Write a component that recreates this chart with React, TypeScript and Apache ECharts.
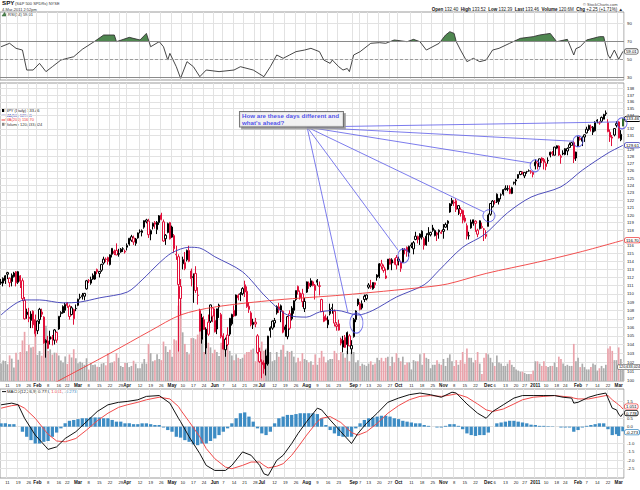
import React, { useEffect, useRef } from "react";
import * as echarts from "echarts";

// ---------- calendar ----------
const HOLIDAYS = ["2010-01-18","2010-02-15","2010-04-02","2010-05-31","2010-07-05","2010-09-06","2010-11-25","2010-12-24","2011-01-17","2011-02-21"];
const FIRST_DAY = "2010-01-06";
const LAST_DAY = "2011-03-03";
function buildTradingDays(): string[] {
  const out: string[] = [];
  const d = new Date(FIRST_DAY + "T00:00:00Z");
  const end = new Date(LAST_DAY + "T00:00:00Z").getTime();
  while (d.getTime() <= end) {
    const wd = d.getUTCDay();
    const s = d.toISOString().slice(0, 10);
    if (wd !== 0 && wd !== 6 && HOLIDAYS.indexOf(s) < 0) out.push(s);
    d.setUTCDate(d.getUTCDate() + 1);
  }
  return out;
}
const dates = buildTradingDays();

// ---------- daily candles [open, high, low, close] ----------
const ohlc: number[][] = [
  [111.3,111.8,111.1,111.44],[111.3,112.0,110.9,111.89],[111.6,112.3,111.2,112.21],[112.6,112.7,111.8,112.40],[111.9,112.0,110.8,111.35],
  [111.5,112.5,110.9,112.28],[112.1,112.7,112.0,112.55],[112.7,112.8,110.9,111.33],[111.4,112.8,111.2,112.72],[112.2,112.3,110.7,111.53],
  [111.6,111.9,109.1,109.41],[109.2,109.6,106.9,106.99],[107.8,108.2,107.0,107.48],[107.2,108.3,106.6,107.03],[106.8,107.9,105.9,107.56],
  [107.9,108.0,105.9,106.28],[106.9,107.5,104.9,105.24],
  [105.6,106.8,105.2,106.74],[106.9,108.3,106.4,108.13],[107.8,108.2,107.2,107.53],[107.2,107.3,104.1,104.18],[104.2,104.6,102.5,104.49],
  [104.4,105.0,103.5,103.56],[104.6,105.6,104.0,104.91],[104.8,105.1,103.9,104.68],[104.5,105.8,104.0,105.69],[104.5,105.5,104.2,105.40],
  [105.8,107.3,105.7,107.30],[107.6,107.9,107.2,107.75],[107.7,108.6,107.6,108.46],[108.0,108.9,107.7,108.70],[108.9,109.0,108.3,108.58],
  [108.5,108.7,106.9,107.27],[107.5,108.5,107.4,108.31],[107.0,108.2,106.3,108.09],[108.2,108.7,107.9,108.24],
  [108.6,109.4,108.5,109.34],[109.5,110.0,109.3,109.59],[109.8,110.1,109.3,109.64],[109.7,110.1,109.2,110.05],[110.6,111.7,110.5,111.59],
  [111.6,111.8,111.3,111.57],[111.3,112.1,111.1,111.76],[111.8,112.5,111.7,112.27],[111.8,112.8,111.7,112.72],[113.0,113.1,112.4,112.70],
  [112.5,112.8,112.0,112.75],[112.9,113.7,112.7,113.63],[113.8,114.6,113.6,114.29],[114.3,114.5,113.9,114.25],[114.5,114.6,113.6,114.00],
  [113.6,114.9,113.5,114.83],[114.9,115.7,114.5,115.66],[115.3,115.5,114.8,115.02],[115.4,116.3,114.8,114.82],[115.0,115.6,114.6,114.91],
  [115.2,115.7,115.1,115.56],[115.6,115.8,115.2,115.57],[115.3,115.5,115.0,115.19],
  [115.8,116.3,115.4,116.04],[116.2,117.0,116.0,116.96],[116.7,117.4,116.5,117.16],[117.0,117.3,116.1,116.47],[116.3,117.0,116.0,116.86],
  [117.0,117.7,116.9,117.65],[117.8,118.1,117.6,117.85],[117.7,118.1,117.2,117.93],[118.4,119.3,118.2,119.25],[119.1,119.5,118.9,119.35],
  [119.2,119.5,117.0,117.42],[117.5,118.1,116.7,117.96],[118.5,119.0,118.1,118.91],[119.0,119.2,118.2,118.79],[118.1,119.2,117.5,119.05],
  [119.0,120.0,118.7,119.90],[120.0,120.3,119.3,119.39],[119.1,119.4,116.5,116.60],[116.9,117.5,116.1,117.35],[117.7,119.0,117.6,118.87],
  [119.0,119.1,116.8,116.89],
  [117.1,118.6,117.0,118.42],[117.3,117.5,115.1,115.60],[114.9,116.0,114.2,114.84],[114.6,114.9,103.2,111.12],[110.9,111.8,107.4,109.42],
  [113.7,114.6,113.0,114.23],[113.1,115.2,112.9,113.85],[114.2,115.5,114.0,115.41],[115.4,116.0,113.9,114.01],[112.8,113.1,110.9,111.86],
  [112.1,112.5,108.9,111.99],[112.5,113.4,110.1,110.40],[109.8,110.8,108.7,109.83],[108.0,108.2,105.5,105.55],[104.6,107.6,104.1,107.14],
  [106.9,107.3,105.7,105.75],[103.6,106.0,102.9,105.79],[106.6,107.5,105.0,105.19],[106.7,108.7,106.5,108.65],[108.3,108.4,106.6,107.31],
  [106.8,108.2,105.4,105.47],[105.8,108.2,105.2,108.19],[108.4,108.8,107.1,108.63],[107.5,107.7,104.7,104.89],[105.0,105.3,103.4,103.47],
  [103.4,104.8,102.6,104.61],[105.1,106.0,103.8,103.99],[105.2,107.1,105.0,107.05],[106.4,107.6,106.2,107.52],[108.0,108.6,107.2,107.33],
  [107.4,109.9,107.3,109.85],[109.5,110.0,109.2,109.79],[110.0,110.2,109.1,109.93],[110.0,110.8,109.8,110.63],[111.1,111.6,109.6,110.21],
  [110.3,110.9,108.3,108.44],[108.5,109.0,107.7,108.11],[107.7,107.9,106.1,106.30],[106.3,107.0,105.8,106.60],[106.6,107.1,106.0,106.38],
  [105.0,105.2,102.9,103.08],[103.2,103.6,101.9,102.04],
  [102.0,102.3,100.2,101.71],[101.9,102.2,100.7,101.24],[102.7,103.4,100.5,101.78],[101.8,105.0,101.6,104.97],[105.6,106.1,104.8,105.95],
  [105.9,106.8,105.7,106.72],[106.5,107.1,106.0,106.80],[107.7,108.6,107.5,108.44],[108.1,108.9,107.7,108.42],[108.0,108.7,106.6,108.55],
  [107.9,108.0,105.3,105.42],[105.7,106.3,104.9,106.05],[104.9,107.3,104.6,107.26],[107.6,108.0,105.7,105.89],[107.0,108.5,106.8,108.27],
  [108.0,109.2,107.6,109.16],[109.3,110.4,109.1,110.39],[110.9,111.0,109.9,110.27],[110.1,110.4,109.3,109.51],[110.0,110.6,108.4,109.05],
  [108.2,109.5,107.8,109.06],
  [110.2,111.5,110.1,111.46],[111.3,111.5,110.6,110.93],[111.0,111.9,110.8,111.60],[111.0,111.6,110.9,111.46],[110.4,111.2,109.3,111.04],
  [111.4,111.8,111.0,111.65],[110.9,111.5,109.8,110.98],[109.3,109.4,107.8,107.86],[106.7,107.9,106.6,107.28],[107.1,107.5,106.8,106.85],
  [106.3,107.3,105.9,106.86],[107.6,108.8,107.4,108.16],[108.2,108.8,107.6,108.32],[107.9,108.1,106.1,106.49],[106.3,106.6,105.6,106.10],
  [106.4,106.9,105.6,105.67],[104.6,104.8,103.9,104.14],[103.7,105.0,103.1,104.48],[104.8,105.1,103.6,103.67],[104.0,105.5,102.9,105.39],
  [105.0,105.2,103.8,103.84],[103.5,104.5,102.9,103.88],
  [104.9,107.1,104.8,106.95],[106.9,108.0,106.6,107.92],[108.7,109.4,108.5,109.35],[108.8,109.0,108.0,108.09],[108.3,109.2,108.1,108.79],
  [109.7,109.9,109.0,109.31],[109.4,109.9,109.2,109.85],[110.8,111.3,110.6,111.07],[110.8,111.7,110.6,110.99],[110.6,111.4,110.5,111.38],
  [111.1,111.4,110.7,111.34],[112.3,112.4,111.6,112.00],[112.1,113.8,111.9,113.70],[113.7,114.2,113.0,113.41],[113.3,113.6,112.6,112.86],
  [112.2,113.1,111.8,111.92],[113.0,114.3,112.9,114.29],[114.3,114.4,113.6,113.65],[113.8,114.4,112.9,114.20],[113.9,114.4,113.6,113.90],
  [114.5,114.8,113.0,113.55],
  [114.3,114.6,113.5,114.05],[113.9,114.1,112.7,113.13],[113.9,115.7,113.8,115.49],[115.4,115.7,114.9,115.42],[115.8,115.9,114.6,115.23],
  [115.1,116.0,114.6,115.93],[116.1,116.4,115.7,115.95],[115.6,116.6,114.9,116.39],[116.8,117.8,116.7,117.22],[117.2,117.3,116.3,116.79],
  [117.5,117.6,116.1,117.03],[117.1,118.0,116.8,117.88],[116.9,117.1,115.5,116.01],[116.1,117.6,116.0,117.23],[117.6,118.4,116.5,117.44],
  [117.4,117.8,117.2,117.72],[118.3,118.7,117.8,117.97],[117.3,118.1,117.2,117.97],[117.4,117.8,116.6,117.65],[118.0,118.1,116.9,117.79],
  [117.6,118.0,117.5,117.73],
  [118.1,118.8,116.9,117.85],[118.4,119.0,118.3,118.76],[118.9,119.3,118.0,119.20],[120.4,121.6,120.3,121.50],[121.5,122.3,121.2,121.97],
  [121.6,122.0,121.2,121.71],[121.9,122.2,120.4,120.73],[120.8,121.3,120.0,121.26],[120.2,121.0,119.8,120.75],[120.6,120.7,118.9,119.32],
  [119.6,120.0,119.0,119.18],[118.6,118.9,116.8,117.24],[117.3,117.8,116.8,117.27],[118.3,119.4,118.2,119.07],[118.9,119.4,118.6,119.37],
  [118.9,119.3,117.8,119.19],[118.0,118.2,117.1,117.48],[118.2,119.3,118.1,119.24],[118.5,119.0,118.2,118.35],[118.1,118.3,116.6,118.18],
  [117.2,118.0,116.9,117.46],
  [118.5,120.2,118.5,120.00],[120.1,121.6,119.9,121.54],[121.1,122.0,121.0,121.86],[121.7,122.0,121.4,121.70],[122.8,122.9,121.6,121.76],
  [121.8,122.3,121.4,122.21],[122.7,122.9,122.1,122.68],[122.8,123.5,122.6,123.42],[123.6,124.0,123.3,123.43],[123.5,124.0,123.2,123.54],
  [123.5,124.0,122.8,122.91],[122.9,123.8,122.8,123.67],[124.3,124.5,124.1,124.42],[124.6,124.9,124.0,124.74],[125.0,125.5,124.9,125.50],
  [125.5,125.9,125.4,125.92],[125.8,125.9,125.5,125.71],[125.3,125.8,125.0,125.79],[125.9,126.0,125.6,125.89],[126.0,126.2,125.9,126.01],
  [125.9,126.1,125.6,125.82],[125.5,125.9,125.1,125.80],
  [126.7,127.6,126.2,127.22],[127.3,127.4,126.2,127.06],[126.6,127.7,126.5,127.69],[127.8,127.9,127.1,127.42],[127.6,127.8,126.2,127.19],
  [126.6,127.3,126.1,127.01],[127.4,127.9,127.0,127.48],[128.2,128.7,127.9,128.63],[128.6,128.8,128.1,128.41],[128.2,129.4,128.2,129.36],
  [129.2,129.6,129.1,129.54],[129.5,129.6,128.1,128.23],[127.9,128.3,127.0,128.06],[128.5,128.9,128.2,128.37],[128.3,129.2,128.2,129.12],
  [128.8,129.3,128.2,129.16],[129.3,130.0,129.2,129.70],[129.6,130.1,129.6,129.99],[130.0,130.2,127.1,127.67],[127.8,128.7,127.4,128.65],
  [129.5,130.9,129.4,130.80],[130.6,130.9,130.3,130.44],[130.2,130.9,129.5,130.75],[130.8,131.2,130.1,131.12],[131.4,132.3,131.3,131.94],
  [131.9,132.6,131.7,132.50],[132.3,132.6,131.6,132.13],[131.5,132.4,131.1,132.23],[131.7,133.1,131.6,132.95],[133.1,133.4,132.8,133.27],
  [132.9,133.1,132.6,132.84],[133.1,133.8,132.9,133.67],[133.4,134.2,133.4,134.08],[134.2,134.7,133.9,134.34],[132.9,133.4,131.5,131.58],
  [131.5,131.9,130.1,130.78],[130.8,131.1,129.5,130.65],[131.1,132.1,130.9,132.03],[132.5,133.1,132.2,132.76],
  [133.0,133.1,130.6,130.67],[130.4,131.8,130.2,131.21],[132.40,133.52,132.39,133.46]
];

// ---------- volume (millions) ----------
const volumeM: number[] = [
  151,177,172,144,221,193,116,243,183,250,350,424,257,313,289,296,406,
  225,258,218,400,476,258,273,228,245,243,220,176,160,212,147,229,203,274,197,
  154,167,157,140,196,99,153,138,142,123,121,150,155,135,240,155,160,170,240,200,130,120,155,
  155,120,130,175,150,110,110,150,190,150,320,240,170,180,230,190,180,340,300,250,270,
  210,360,350,650,690,420,320,250,230,370,370,360,400,470,430,250,420,330,290,240,
  270,250,215,330,290,320,300,260,220,180,230,200,190,200,230,250,250,270,280,170,380,290,
  340,260,280,270,250,170,180,250,210,270,310,210,260,250,260,210,160,200,170,240,190,
  180,160,170,140,230,140,200,260,210,160,180,190,190,260,240,180,250,240,200,260,170,250,
  250,160,180,130,150,140,130,150,170,140,150,200,180,200,170,200,210,130,210,160,240,
  200,170,210,140,160,160,100,180,170,170,230,140,240,200,190,110,140,140,180,150,140,
  190,130,200,230,170,130,180,140,180,250,150,280,200,200,160,180,250,150,60,200,240,
  230,200,160,130,220,160,150,130,130,150,180,140,120,100,90,80,80,70,60,60,60,90,
  170,170,150,130,170,130,120,130,130,160,120,210,190,150,130,140,130,130,320,170,
  200,120,150,120,100,100,120,150,140,90,110,130,110,140,280,300,260,180,180,
  290,190,120.633
];

// ---------- moving averages [day index, value] ----------
const ma50Pts: number[][] = [[0,107.45],[11,109.25],[18,109.25],[29,108.9],[37,109.0],[46,109.5],[59,110.2],[66,111.7],[74,113.8],[80,115.1],[88,115.8],[93,115.7],[100,114.6],[113,112.7],[124,109.6],[134,107.45],[143,107.2],[149,107.8],[157,108.0],[167,107.45],[174,108.0],[185,109.6],[198,111.1],[205,112.9],[216,115.8],[226,117.4],[237,120.3],[248,122.4],[262,123.8],[272,126.1],[284,128.5],[291,129.61]];
const ma200Pts: number[][] = [[22,99.3],[26,99.8],[51,103.0],[70,105.6],[84,107.45],[100,108.4],[129,109.25],[160,109.85],[198,110.8],[209,111.2],[227,112.5],[251,113.9],[271,115.2],[291,116.7]];

// ---------- RSI(14) [day index, value] ----------
const rsiPts: number[][] = [[0,64.2],[4,68],[7,62.4],[10,60.5],[12,38.3],[15,38.3],[18,45.7],[21,36.5],[24,42],[28,49.4],[31,51.3],[34,53.1],[38,61.3],[44,70.5],[48,77.2],[53,77.2],[54,69.8],[60,74.6],[65,71.7],[68,79],[70,64.2],[74,69.8],[76,64.2],[78,49.4],[79,56.8],[82,42],[84,29.1],[87,47.6],[90,42],[93,30.9],[96,38.3],[102,36.5],[109,38.3],[112,42],[118,38.3],[123,30.9],[126,42],[129,55],[132,51.3],[135,55],[138,58.7],[142,60.5],[145,62.4],[149,58.7],[151,49.4],[154,45.7],[155,49.4],[158,42],[160,38.3],[162,40],[163,36.5],[165,55],[168,58.7],[173,68],[177,68.7],[180,68],[184,71.7],[190,69.8],[193,72.4],[196,69.8],[199,60.5],[205,68],[208,77.2],[210,80.9],[212,79],[213,69.8],[215,60.5],[218,47.6],[221,51.3],[224,47.6],[227,49.4],[230,60.5],[233,62.4],[238,68],[243,73.5],[249,75.4],[252,77.2],[257,79],[260,69.8],[265,72.4],[268,55],[269,62],[271,64.2],[274,71.7],[277,73.5],[280,75.4],[282,75.4],[284,55],[285,51.3],[287,60.5],[289,50.2],[291,59.01]];

// ---------- MACD(12,26,9) [day index, value] ----------
const macdPts: number[][] = [[0,1.3],[5,1.4],[8,1.3],[11,0.5],[16,-0.5],[21,-1.2],[22,-1.35],[26,-1.2],[30,-0.7],[35,-0.3],[40,0.3],[45,0.9],[50,1.3],[55,1.45],[59,1.5],[64,1.6],[68,1.8],[74,1.85],[79,1.4],[83,0.5],[84,0.3],[88,-0.6],[93,-1.6],[96,-2.3],[100,-2.6],[105,-2.6],[108,-2.3],[113,-1.5],[117,-1.7],[121,-2.3],[123,-2.8],[125,-2.9],[129,-2.0],[132,-1.7],[136,-1.0],[139,-0.4],[143,0.3],[148,1.1],[150,1.0],[154,0.4],[159,-0.3],[164,-1.0],[167,-0.4],[171,0.2],[176,0.8],[181,1.45],[186,1.7],[191,1.9],[196,2.0],[201,1.9],[206,1.75],[211,2.05],[213,2.0],[218,1.35],[223,0.8],[227,0.5],[230,0.9],[235,1.3],[240,1.7],[244,1.85],[249,1.85],[254,1.85],[259,1.85],[263,1.75],[267,1.7],[268,1.4],[270,1.45],[275,1.75],[279,1.9],[283,2.0],[284,1.7],[286,1.1],[288,1.0],[289,0.75],[290,0.6],[291,0.778]];
const signalPts: number[][] = [[0,1.1],[5,1.25],[8,1.3],[11,1.1],[16,0.5],[21,-0.3],[22,-0.45],[26,-0.85],[30,-0.9],[35,-0.7],[40,-0.2],[45,0.35],[50,0.8],[55,1.15],[59,1.3],[64,1.45],[68,1.6],[74,1.75],[79,1.65],[83,1.2],[84,1.0],[88,0.3],[93,-0.6],[96,-1.3],[100,-1.9],[105,-2.4],[108,-2.5],[113,-2.3],[117,-2.1],[121,-2.1],[123,-2.3],[125,-2.45],[129,-2.35],[132,-2.2],[136,-1.7],[139,-1.2],[143,-0.5],[148,0.3],[150,0.5],[154,0.6],[159,0.25],[164,-0.35],[167,-0.5],[171,-0.3],[176,0.2],[181,0.8],[186,1.25],[191,1.6],[196,1.8],[201,1.85],[206,1.8],[211,1.9],[213,1.95],[218,1.75],[223,1.35],[227,1.0],[230,0.9],[235,1.05],[240,1.35],[244,1.6],[249,1.75],[254,1.8],[259,1.85],[263,1.8],[267,1.75],[268,1.7],[270,1.65],[275,1.65],[279,1.75],[283,1.85],[284,1.85],[286,1.6],[288,1.4],[289,1.3],[290,1.2],[291,1.051]];
const histPts: number[][] = [[0,0.2],[2,0.2],[4,0.15],[6,0.15],[8,0.0],[10,-0.3],[12,-0.6],[14,-0.8],[16,-1.0],[18,-1.0],[20,-0.9],[22,-0.85],[24,-0.6],[26,-0.35],[28,-0.1],[30,0.2],[32,0.35],[34,0.4],[36,0.45],[38,0.5],[40,0.5],[42,0.55],[44,0.55],[46,0.55],[48,0.5],[50,0.5],[52,0.4],[54,0.3],[56,0.3],[58,0.2],[60,0.2],[62,0.15],[64,0.15],[66,0.2],[68,0.2],[70,0.15],[72,0.1],[74,0.1],[76,-0.05],[78,-0.2],[80,-0.3],[82,-0.6],[84,-0.65],[86,-0.8],[88,-0.9],[90,-1.05],[92,-1.1],[94,-1.0],[96,-1.0],[98,-0.85],[100,-0.7],[102,-0.5],[104,-0.3],[106,-0.1],[108,0.2],[110,0.5],[112,0.8],[114,0.85],[116,0.6],[118,0.3],[120,-0.1],[122,-0.4],[124,-0.5],[126,-0.3],[128,0.2],[130,0.5],[132,0.6],[134,0.7],[136,0.7],[138,0.75],[140,0.8],[142,0.8],[144,0.8],[146,0.8],[148,0.75],[150,0.5],[152,0.1],[154,-0.2],[156,-0.4],[158,-0.55],[160,-0.6],[162,-0.6],[164,-0.6],[166,-0.1],[168,0.2],[170,0.4],[172,0.5],[174,0.55],[176,0.6],[178,0.65],[180,0.65],[182,0.6],[184,0.5],[186,0.45],[188,0.35],[190,0.3],[192,0.25],[194,0.2],[196,0.2],[198,0.1],[200,0.05],[202,0.0],[204,-0.05],[206,-0.05],[208,0.05],[210,0.15],[212,0.15],[214,0.05],[216,-0.15],[218,-0.4],[220,-0.5],[222,-0.55],[224,-0.5],[226,-0.5],[228,-0.35],[230,0.0],[232,0.2],[234,0.25],[236,0.3],[238,0.35],[240,0.35],[242,0.3],[244,0.25],[246,0.2],[248,0.12],[250,0.1],[252,0.05],[254,0.05],[256,0.03],[258,0.02],[260,0.0],[262,-0.05],[264,-0.05],[266,-0.05],[268,-0.3],[270,-0.2],[272,-0.05],[274,0.05],[276,0.1],[278,0.15],[280,0.2],[282,0.2],[284,-0.15],[286,-0.5],[288,-0.45],[289,-0.55],[291,-0.273]];

// ---------- axis tick labels ----------
const tickLabels: [string, string][] = [["2010-01-11","11"],["2010-01-19","19"],["2010-01-26","26"],["2010-02-01","Feb"],["2010-02-08","8"],["2010-02-16","16"],["2010-02-22","22"],["2010-03-01","Mar"],["2010-03-08","8"],["2010-03-15","15"],["2010-03-22","22"],["2010-03-29","29"],["2010-04-01","Apr"],["2010-04-12","12"],["2010-04-19","19"],["2010-04-26","26"],["2010-05-03","May"],["2010-05-10","10"],["2010-05-17","17"],["2010-05-24","24"],["2010-06-01","Jun"],["2010-06-07","7"],["2010-06-14","14"],["2010-06-21","21"],["2010-06-28","28"],["2010-07-01","Jul"],["2010-07-12","12"],["2010-07-19","19"],["2010-07-26","26"],["2010-08-02","Aug"],["2010-08-09","9"],["2010-08-16","16"],["2010-08-23","23"],["2010-09-01","Sep"],["2010-09-07","7"],["2010-09-13","13"],["2010-09-20","20"],["2010-09-27","27"],["2010-10-01","Oct"],["2010-10-11","11"],["2010-10-18","18"],["2010-10-25","25"],["2010-11-01","Nov"],["2010-11-08","8"],["2010-11-15","15"],["2010-11-22","22"],["2010-12-01","Dec"],["2010-12-06","6"],["2010-12-13","13"],["2010-12-20","20"],["2010-12-27","27"],["2011-01-03","2011"],["2011-01-10","10"],["2011-01-18","18"],["2011-01-24","24"],["2011-02-01","Feb"],["2011-02-07","7"],["2011-02-14","14"],["2011-02-22","22"],["2011-03-01","Mar"]];
const priceTicks = [100,101,102,103,104,105,106,107,108,109,110,111,112,113,114,115,116,118,119,120,121,122,123,124,125,126,127,128,129,131,132,134,135,136,137,138];
const rsiTicks = [30, 50, 70, 90];
const macdTicks = [-2.5, -2, -1.5, -1, 0, 0.5, 1.5];

// ---------- annotation (day index, price) ----------
const annoAnchor = [143.2, 132.25];
const annoTargets = [[162.3,107.7],[185.7,115.45],[226,120.4],[248,127.1],[267.6,130.2],[288.2,133.0]];
const annoCircles = [[166.3,106.5],[188.3,114.7],[228.3,119.9],[249.9,126.7],[270,130.2],[290.6,132.8]];
const annoCircleSizes = [[13,20],[11,14],[12,12],[10,12],[10,11],[10,11]];
const annoTextAt = [111.8, 133.4];

const FONT = "'Liberation Sans', Arial, sans-serif";
const RED = "#e0103a";
const MA50C = "#3a3ab4";
const MA200C = "#f03c3c";
const HISTC = "#3d8cc4";
const GRIDC = "#e2e2e2";
const RSIFILL = "#4f8750";

function buildOption(useVisualMap: boolean): any {
  const N = dates.length;
  const last = N - 1;
  const labelMap = new Map(tickLabels);
  const isTick = (_i: number, v: string) => labelMap.has(v);
  const toCat = (pts: number[][]) => pts.map((p) => [dates[p[0]], p[1]]);

  const candleData = ohlc.map((d, i) => {
    const [o, h, l, c] = d;
    const prev = i > 0 ? ohlc[i - 1][3] : o;
    const col = c >= prev ? "#000" : RED;
    if (i === last) return { value: [o, c, l, h], itemStyle: { color: "#5fa85f", color0: "#5fa85f", borderColor: "#2f6a2f", borderColor0: "#2f6a2f" } };
    return { value: [o, c, l, h], itemStyle: { color: "#fff", color0: col, borderColor: col, borderColor0: col } };
  });
  const volData = volumeM.map((v, i) => {
    const down = i > 0 && ohlc[i][3] < ohlc[i - 1][3];
    return { value: v, itemStyle: { color: down ? "#eaa3ab" : "#acacac" } };
  });

  const catAxis = (gi: number, showLabels: boolean) => ({
    type: "category", gridIndex: gi, data: dates, boundaryGap: true,
    axisLine: { show: false },
    axisTick: { show: false, interval: isTick },
    axisLabel: {
      show: showLabels, interval: isTick, fontSize: 4.2, color: "#222", margin: 2, fontFamily: FONT,
      formatter: (v: string) => { const t = labelMap.get(v); if (!t) return ""; return /^\d{1,2}$/.test(t) ? t : "{b|" + t + "}"; },
      rich: { b: { fontWeight: "bold", fontSize: 4.6, fontFamily: FONT, color: "#111" } },
    },
    splitLine: { show: gi !== 2, interval: isTick, lineStyle: { color: GRIDC, width: 1 } },
  });

  const boxLabel = (text: string, border: string, color: string, offset: number[], size: number) => ({
    show: true, position: "right", distance: 2, offset, formatter: text, fontSize: size, fontFamily: FONT, color,
    backgroundColor: "#fff", borderColor: border, borderWidth: 0.8, borderRadius: 1.5, padding: [0.5, 1, 0, 1],
  });
  const endMark = (value: number, text: string, border: string, color: string, offset: number[] = [0, 0], size = 4.3) => ({
    symbol: "circle", symbolSize: 0, silent: true,
    data: [{ coord: [dates[last], value], label: boxLabel(text, border, color, offset, size) }],
  });

  const annoSeries: any[] = annoTargets.map((t) => ({
    type: "line", xAxisIndex: 4, yAxisIndex: 1, data: [annoAnchor, t], symbol: "none", silent: true, z: 6,
    lineStyle: { color: "#5a5ae8", width: 0.8 },
  }));
  annoSeries.push({
    type: "scatter", xAxisIndex: 4, yAxisIndex: 1, silent: true, z: 6, symbol: "circle",
    data: annoCircles.map((c, i) => ({ value: c, symbolSize: annoCircleSizes[i] })),
    itemStyle: { color: "rgba(0,0,0,0)", borderColor: "#4f4fe6", borderWidth: 1 },
  });
  annoSeries.push({
    type: "scatter", xAxisIndex: 4, yAxisIndex: 1, silent: true, z: 7, symbolSize: 0, data: [annoTextAt],
    label: {
      show: true, position: "right", distance: 0, formatter: "How are these days different and\nwhat's ahead?",
      fontSize: 6.2, lineHeight: 7, fontWeight: "bold", fontFamily: FONT, color: "#1e1ee6",
      backgroundColor: "#fff", borderColor: "#555", borderWidth: 1, padding: [0.5, 4, 0, 2],
      shadowColor: "#999", shadowOffsetX: 2, shadowOffsetY: 2, shadowBlur: 0, align: "left",
    },
  });

  const rsiArea: any = useVisualMap
    ? { type: "line", xAxisIndex: 0, yAxisIndex: 0, data: toCat(rsiPts), symbol: "none", z: 3, lineStyle: { width: 0, opacity: 0 }, areaStyle: { origin: 70, opacity: 1 } }
    : { type: "line", xAxisIndex: 0, yAxisIndex: 0, data: rsiPts.map((p) => [dates[p[0]], Math.max(p[1], 70)]), symbol: "none", z: 3, lineStyle: { width: 0, opacity: 0 }, areaStyle: { origin: 70, opacity: 1, color: RSIFILL } };

  const txt = (x: number, y: number, text: string, size: number, fill = "#222", extra: any = {}) => ({
    type: "text", x, y, silent: true, style: { text, fontSize: size, fontFamily: FONT, fill, ...extra },
  });

  return {
    animation: false,
    backgroundColor: "#fff",
    grid: [
      { left: 0, top: 12, width: 624, height: 68, show: true, borderColor: "#9a9a9a", borderWidth: 1, backgroundColor: "#fff" },
      { left: 0, top: 83, width: 624, height: 298, show: true, borderColor: "#9a9a9a", borderWidth: 1, backgroundColor: "#fff" },
      { left: 0, top: 301, width: 624, height: 80, show: false },
      { left: 0, top: 389, width: 624, height: 89, show: true, borderColor: "#9a9a9a", borderWidth: 1, backgroundColor: "#fff" },
    ],
    xAxis: [
      catAxis(0, false),
      catAxis(1, true),
      { ...catAxis(2, false), show: false },
      catAxis(3, true),
      { type: "value", gridIndex: 1, min: -0.5, max: N - 0.5, show: false },
    ],
    yAxis: [
      {
        type: "value", gridIndex: 0, position: "right", min: 27.2, max: 102.8,
        axisLine: { show: false }, axisTick: { show: false, customValues: rsiTicks },
        axisLabel: { customValues: rsiTicks, fontSize: 4.3, color: "#222", margin: 3, fontFamily: FONT },
        splitLine: { show: true, lineStyle: { color: GRIDC } },
      },
      {
        type: "log", logBase: 10, gridIndex: 1, position: "right", min: 99.89, max: 138.85,
        axisLine: { show: false }, axisTick: { show: false, customValues: priceTicks },
        axisLabel: { customValues: priceTicks, fontSize: 4.3, color: "#222", margin: 3, fontFamily: FONT, formatter: (v: number) => String(Math.round(v)) },
        splitLine: { show: true, lineStyle: { color: GRIDC } },
      },
      { type: "value", gridIndex: 2, min: 0, max: 690, show: false, splitLine: { show: false } },
      {
        type: "value", gridIndex: 3, position: "right", min: -3.05, max: 2.24,
        axisLine: { show: false }, axisTick: { show: false, customValues: macdTicks },
        axisLabel: { customValues: macdTicks, fontSize: 4.3, color: "#222", margin: 3, fontFamily: FONT, formatter: (v: number) => v.toFixed(1) },
        splitLine: { show: true, lineStyle: { color: GRIDC } },
      },
    ],
    visualMap: useVisualMap
      ? [{ show: false, type: "piecewise", seriesIndex: 1, dimension: 1, pieces: [{ min: 70, max: 120, color: RSIFILL }, { min: -20, max: 70, color: "rgba(0,0,0,0)" }] }]
      : [],
    series: [
      {
        type: "line", xAxisIndex: 0, yAxisIndex: 0, data: toCat(rsiPts), symbol: "none", z: 4,
        lineStyle: { color: "#333", width: 0.9 },
        markLine: {
          silent: true, symbol: "none", label: { show: false },
          data: [
            { yAxis: 70, lineStyle: { color: "#8a8a8a", type: "solid", width: 1 } },
            { yAxis: 30, lineStyle: { color: "#8a8a8a", type: "solid", width: 1 } },
            { yAxis: 50, lineStyle: { color: "#9a9a9a", type: [3, 2], width: 1 } },
          ],
        },
        markPoint: endMark(59.01, "59.01", "#555", "#000"),
      },
      rsiArea,
      { type: "candlestick", xAxisIndex: 1, yAxisIndex: 1, data: candleData, barWidth: 1.8, z: 4, markPoint: endMark(133.46, "133.46", "#000", "#000") },
      { type: "line", xAxisIndex: 1, yAxisIndex: 1, data: toCat(ma50Pts), symbol: "none", smooth: 0.3, z: 5, lineStyle: { color: MA50C, width: 0.9 }, markPoint: endMark(129.61, "129.61", MA50C, "#000") },
      { type: "line", xAxisIndex: 1, yAxisIndex: 1, data: toCat(ma200Pts), symbol: "none", smooth: 0.3, z: 5, lineStyle: { color: MA200C, width: 0.9 }, markPoint: endMark(116.7, "116.70", MA200C, "#000") },
      { type: "bar", xAxisIndex: 2, yAxisIndex: 2, data: volData, barWidth: 1.7, z: 1, markPoint: endMark(120.633, "120,633,024", "#777", "#000", [-7, 0], 3.8) },
      { type: "bar", xAxisIndex: 3, yAxisIndex: 3, data: toCat(histPts), barWidth: 3.3, z: 2, itemStyle: { color: HISTC }, markPoint: endMark(-0.273, "-0.273", HISTC, "#000", [0, 1]) },
      { type: "line", xAxisIndex: 3, yAxisIndex: 3, data: toCat(macdPts), symbol: "none", z: 4, lineStyle: { color: "#111", width: 1 }, markPoint: endMark(0.778, "0.778", "#111", "#000", [0, -0.5]) },
      { type: "line", xAxisIndex: 3, yAxisIndex: 3, data: toCat(signalPts), symbol: "none", z: 3, lineStyle: { color: "#f04a4a", width: 1 }, markPoint: endMark(1.051, "1.051", "#f04a4a", "#000", [0, -2.5]) },
      ...annoSeries,
    ],
    graphic: [
      txt(2, -0.5, "SPY", 6.2, "#111", { fontWeight: "bold" }),
      txt(15, 1.2, "(S&P 500 SPDRs) NYSE", 4, "#333"),
      txt(2, 7.4, "4-Mar-2011 2:52pm", 4, "#333"),
      { type: "polygon", silent: true, shape: { points: [[2, 16], [4.5, 12.5], [7, 16]] }, style: { fill: RSIFILL, stroke: "#2d5a2d", lineWidth: 0.5 } },
      txt(8, 12.5, "RSI(14) 59.01", 4, "#333"),
      txt(583, 2.5, "\u00a9 StockCharts.com", 4, "#444"),
      {
        type: "text", x: 623, y: 7.2, silent: true,
        style: {
          text: "{b|Open} 132.40  {b|High} 133.52  {b|Low} 132.39  {b|Last} 133.46  {b|Volume} 120.6M  {b|Chg} +2.25 (+1.71%) \u25b2",
          fontSize: 4.5, fontFamily: FONT, fill: "#222", align: "right",
          rich: { b: { fontWeight: "bold", fontSize: 4.5, fontFamily: FONT, fill: "#111" } },
        },
      },
      { type: "rect", silent: true, shape: { x: 2, y: 108.8, width: 2.2, height: 3.2 }, style: { fill: "#000" } },
      txt(5.5, 108.5, "SPY (Daily) 133.46", 4, "#222"),
      { type: "line", silent: true, shape: { x1: 1.5, y1: 115.3, x2: 5, y2: 115.3 }, style: { stroke: MA50C, lineWidth: 1 } },
      txt(5.5, 113.2, "MA(50) 129.61", 4, MA50C),
      { type: "line", silent: true, shape: { x1: 1.5, y1: 120, x2: 5, y2: 120 }, style: { stroke: MA200C, lineWidth: 1 } },
      txt(5.5, 117.9, "MA(200) 116.70", 4, MA200C),
      { type: "rect", silent: true, shape: { x: 2, y: 122.8, width: 2.5, height: 3 }, style: { fill: "#888" } },
      txt(5.5, 122.6, "Volume 120,633,024", 4, "#333"),
      { type: "line", silent: true, shape: { x1: 2, y1: 391.6, x2: 6, y2: 391.6 }, style: { stroke: "#111", lineWidth: 1 } },
      {
        type: "text", x: 7, y: 389.5, silent: true,
        style: {
          text: "MACD(12,26,9) 0.778, {r|1.051}, {bl|-0.273}",
          fontSize: 4.3, fontFamily: FONT, fill: "#222",
          rich: { r: { fill: "#f04a4a", fontSize: 4.3, fontFamily: FONT }, bl: { fill: HISTC, fontSize: 4.3, fontFamily: FONT } },
        },
      },
    ],
  };
}

export default function App() {
  const ref = useRef<HTMLDivElement>(null);
  useEffect(() => {
    if (!ref.current) return;
    let chart = echarts.init(ref.current, null, { renderer: "svg" });
    try {
      chart.setOption(buildOption(true));
    } catch (e) {
      chart.dispose();
      chart = echarts.init(ref.current, null, { renderer: "svg" });
      chart.setOption(buildOption(false));
    }
    return () => chart.dispose();
  }, []);
  return <div ref={ref} style={{ position: "fixed", left: 0, top: 0, width: 640, height: 490, background: "#fff" }} />;
}
